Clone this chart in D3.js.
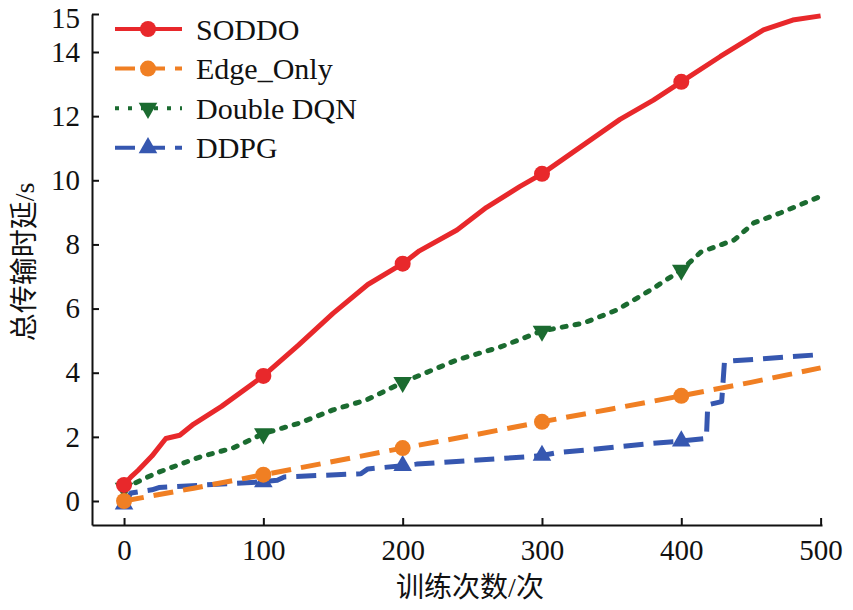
<!DOCTYPE html>
<html>
<head>
<meta charset="utf-8">
<script src="https://cdn.jsdelivr.net/npm/d3@7"></script>
<style>
  body { margin: 0; background: #fff; }
  text { font-family: "Liberation Serif", "Noto Sans CJK SC", serif; fill: #111; }
</style>
</head>
<body>
<svg width="853" height="610"></svg>
<script>
// data: [训练次数, 总传输时延]
const soddo = [[0, 0.5], [5, 0.75], [10, 0.95], [20, 1.4], [30, 1.95], [40, 2.05], [50, 2.4],
  [70, 2.95], [100, 3.9], [125, 4.85], [150, 5.85], [175, 6.75], [200, 7.4], [212, 7.8],
  [239, 8.45], [260, 9.15], [284, 9.8], [300, 10.2], [328, 11.05], [356, 11.9], [380, 12.5],
  [400, 13.07], [428, 13.86], [459, 14.58], [480, 14.84], [500, 14.95]];
const edgeOnly = [[0, 0], [50, 0.4], [100, 0.82], [150, 1.23], [200, 1.65], [250, 2.05],
  [300, 2.47], [350, 2.87], [400, 3.28], [450, 3.7], [500, 4.15]];
const doubleDqn = [[0, 0.4], [23, 0.87], [55, 1.38], [78, 1.65], [100, 2.1], [126, 2.43],
  [150, 2.84], [174, 3.15], [200, 3.7], [239, 4.4], [270, 4.8], [300, 5.3], [330, 5.55],
  [354, 5.96], [378, 6.58], [400, 7.2], [414, 7.76], [438, 8.14], [452, 8.67], [471, 8.98],
  [500, 9.5]];
const ddpg = [[0, -0.1], [5, 0.25], [20, 0.35], [25, 0.42], [100, 0.6], [110, 0.65], [115, 0.75],
  [170, 0.85], [175, 1.0], [200, 1.1], [210, 1.15], [290, 1.38], [300, 1.42], [310, 1.5],
  [380, 1.8], [400, 1.87], [418, 1.95], [419, 3.0], [429, 3.1], [431, 4.35], [495, 4.55],
  [500, 4.62]];
const markerX = [0, 100, 200, 300, 400];
const xTicks = [0, 100, 200, 300, 400, 500];
const yTicks = [0, 2, 4, 6, 8, 10, 12, 14, 15];

const seriesList = [
  { name: 'SODDO', data: soddo, color: '#e8282b', dash: null, marker: 'circle' },
  { name: 'Edge_Only', data: edgeOnly, color: '#f07f23', dash: '20,10', marker: 'circle' },
  { name: 'Double DQN', data: doubleDqn, color: '#1b6b30', dash: '4,9', marker: 'down' },
  { name: 'DDPG', data: ddpg, color: '#3657b0', dash: '20,10', marker: 'up' }
];

const svg = d3.select('svg');
const x = d3.scaleLinear().domain([-23, 501]).range([92, 822]);
// the picture's top tick (15) sits closer to 14 than the rest, so the scale is polylinear
const y = d3.scaleLinear().domain([-0.75, 0, 14, 15]).range([525, 501, 52, 14]);

const line = d3.line().x(d => x(d[0])).y(d => y(d[1]));

const valueAt = (data, xv) => {
  const i = d3.bisector(d => d[0]).left(data, xv);
  const p = data[Math.min(i, data.length - 1)];
  if (p[0] === xv || i === 0) return p[1];
  const a = data[i - 1];
  return a[1] + (p[1] - a[1]) * (xv - a[0]) / (p[0] - a[0]);
};

const drawMarker = (g, type, cx, cy, color) => {
  if (type === 'circle') {
    g.append('circle').attr('cx', cx).attr('cy', cy).attr('r', 8).attr('fill', color);
  } else {
    const s = d3.symbol().type(d3.symbolTriangle).size(150)();
    g.append('path').attr('d', s)
      .attr('transform', `translate(${cx},${cy}) rotate(${type === 'down' ? 180 : 0})`)
      .attr('fill', color);
  }
};

// axes
const xAxis = svg.append('g').attr('transform', `translate(0,${y(-0.75)})`)
  .call(d3.axisBottom(x).tickValues(xTicks).tickSizeInner(-7).tickSizeOuter(0).tickPadding(14));
const yAxis = svg.append('g').attr('transform', `translate(${x(-23)},0)`)
  .call(d3.axisLeft(y).tickValues(yTicks).tickSizeInner(-7).tickSizeOuter(0).tickPadding(10));
[xAxis, yAxis].forEach(a => {
  a.select('.domain').attr('stroke', '#111').attr('stroke-width', 2);
  a.selectAll('.tick line').attr('stroke', '#111').attr('stroke-width', 2);
  a.selectAll('.tick text').attr('font-size', 29).attr('fill', '#111')
    .attr('font-family', '"Liberation Serif", serif');
});
yAxis.selectAll('.tick text').attr('dx', -2);
yAxis.selectAll('.tick text').filter(d => d === 15).attr('dy', '0.45em');

// lines
const plot = svg.append('g');
seriesList.slice().reverse().forEach(s => {
  plot.append('path').datum(s.data)
    .attr('d', line)
    .attr('fill', 'none')
    .attr('stroke', s.color)
    .attr('stroke-width', 5)
    .attr('stroke-linejoin', 'round')
    .attr('stroke-linecap', s.dash === '4,9' ? 'round' : 'butt')
    .attr('stroke-dasharray', s.dash);
});
seriesList.slice().reverse().forEach(s => {
  markerX.forEach(mx => drawMarker(plot, s.marker, x(mx), y(valueAt(s.data, mx)), s.color));
});

// legend
const legend = svg.append('g').attr('transform', 'translate(115,29)');
seriesList.forEach((s, i) => {
  const row = legend.append('g').attr('transform', `translate(0,${i * 39.6})`);
  row.append('line').attr('x1', 0).attr('x2', 67).attr('y1', 0).attr('y2', 0)
    .attr('stroke', s.color).attr('stroke-width', 4)
    .attr('stroke-dasharray', s.dash);
  drawMarker(row, s.marker, 33, 0, s.color);
  row.append('text').attr('x', 81).attr('y', 0).attr('dy', '0.35em')
    .attr('font-size', 30).text(s.name);
});

// axis titles
svg.append('text').attr('x', 470).attr('y', 597).attr('text-anchor', 'middle')
  .attr('font-size', 28).text('训练次数/次');
svg.append('text').attr('transform', 'translate(34,262) rotate(-90)')
  .attr('text-anchor', 'middle').attr('font-size', 28).text('总传输时延/s');
</script>
</body>
</html>
